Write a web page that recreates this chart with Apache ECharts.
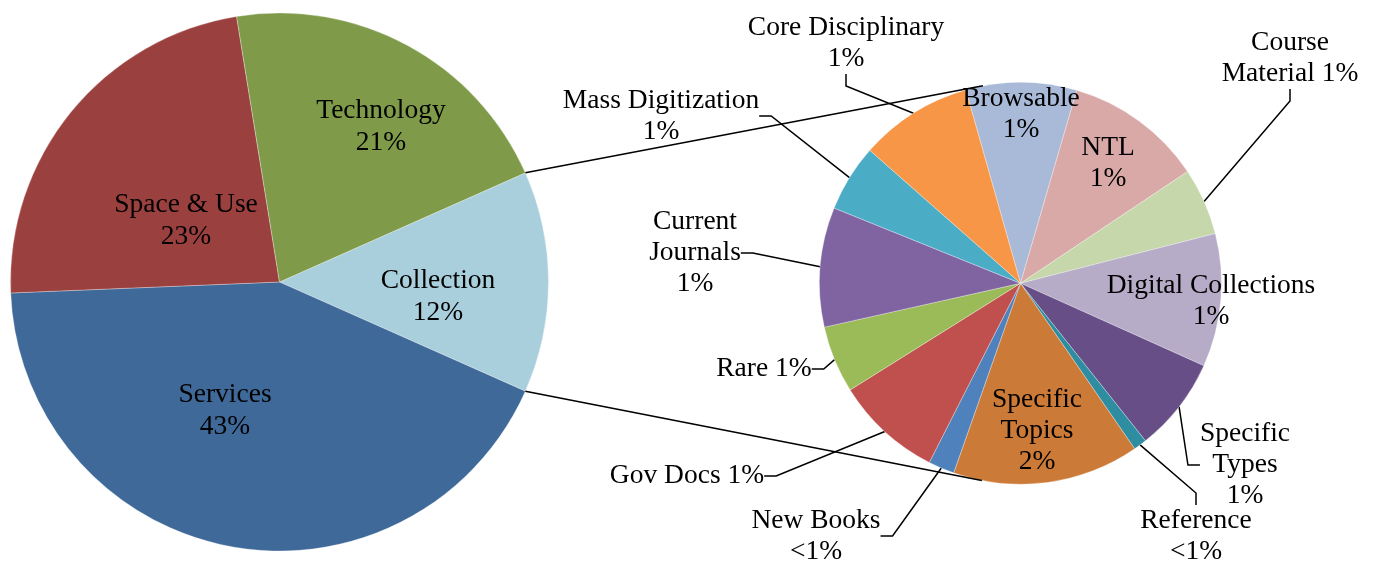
<!DOCTYPE html>
<html>
<head>
<meta charset="utf-8">
<title>Collection breakdown</title>
<script src="https://cdn.jsdelivr.net/npm/echarts@6/dist/echarts.min.js"></script>
<style>
  html, body { margin: 0; padding: 0; background: #fff; }
  #main { width: 1380px; height: 563px; }
</style>
</head>
<body>
<div id="main"></div>
<script>
// main pie (Collection first so it can be turned to face the second pie)
var mainNames = ['Collection', 'Services', 'Space & Use', 'Technology'];
var mainValues = [13.3, 42.7, 23.1, 20.9];
var mainPct = ['12%', '43%', '23%', '21%'];
var mainColors = ['#A9CEDC', '#3F6999', '#9A403E', '#7F9B4A'];

// breakdown of Collection, clockwise from the top
var subNames = ['Browsable', 'NTL', 'Course Material', 'Digital Collections', 'Specific Types',
  'Reference', 'Specific Topics', 'New Books', 'Gov Docs', 'Rare', 'Current Journals',
  'Mass Digitization', 'Core Disciplinary'];
var subValues = [8.9, 11.1, 5.4, 10.7, 7.6, 1.06, 15.0, 2.1, 8.6, 5.4, 9.6, 5.4, 9.1];
var subLabels = ['Browsable\n1%', 'NTL\n1%', 'Course\nMaterial 1%', 'Digital Collections\n1%',
  'Specific\nTypes\n1%', 'Reference\n<1%', 'Specific\nTopics\n2%', 'New Books\n<1%',
  'Gov Docs 1%', 'Rare 1%', 'Current\nJournals\n1%', 'Mass Digitization\n1%',
  'Core Disciplinary\n1%'];
var subColors = ['#A9B9D8', '#D9A9A8', '#C6D7AB', '#B6ACC8', '#674E86', '#2F8DA2', '#CC7A37',
  '#4F81BD', '#C0504D', '#9BBB59', '#8064A2', '#4BACC6', '#F79646'];

// layout
var bigC = [279.5, 282], bigR = 269;
var smallC = [1020.5, 283.3], smallR = 201;
var subStart = 105.8;
var insideSub = ['Browsable', 'NTL', 'Digital Collections', 'Specific Topics'];
var mainSpots = {
  'Collection': [438, 297], 'Services': [225, 411],
  'Space & Use': [186, 221], 'Technology': [381, 127]
};
var subSpots = {
  'Browsable': [1021, 114], 'NTL': [1108, 163], 'Digital Collections': [1211, 301],
  'Specific Topics': [1037, 431], 'Core Disciplinary': [846, 43],
  'Mass Digitization': [661, 116], 'Current Journals': [695, 253], 'Rare': [764, 369],
  'Gov Docs': [687, 476], 'New Books': [816, 536], 'Specific Types': [1245, 465],
  'Reference': [1196, 536], 'Course Material': [1290, 58]
};

var font = 'Liberation Serif';
var mainSum = mainValues.reduce(function (a, b) { return a + b; }, 0);
var mainStart = mainValues[0] / mainSum * 180; // Collection centred on 3 o'clock

// lines from the Collection slice edges, tangent to the second pie
function tangent(p, upper) {
  var dx = p[0] - smallC[0], dy = p[1] - smallC[1];
  var d = Math.sqrt(dx * dx + dy * dy);
  var a = Math.atan2(dy, dx);
  var b = Math.acos(smallR / d);
  var t = upper ? a + b : a - b;
  return [smallC[0] + smallR * Math.cos(t), smallC[1] + smallR * Math.sin(t)];
}
var ang = mainStart * Math.PI / 180;
var p1 = [bigC[0] + bigR * Math.cos(-ang), bigC[1] + bigR * Math.sin(-ang)];
var p2 = [bigC[0] + bigR * Math.cos(ang), bigC[1] + bigR * Math.sin(ang)];
var q1 = tangent(p1, true), q2 = tangent(p2, false);

var mainData = mainNames.map(function (n, i) {
  return { name: n, value: mainValues[i], itemStyle: { color: mainColors[i] } };
});
var subData = subNames.map(function (n, i) {
  var inside = insideSub.indexOf(n) >= 0;
  return {
    name: n, value: subValues[i], itemStyle: { color: subColors[i] },
    label: { position: inside ? 'inside' : 'outside' },
    labelLine: { show: !inside }
  };
});

var chart = echarts.init(document.getElementById('main'));
chart.setOption({
  animation: false,
  textStyle: { fontFamily: font },
  graphic: [
    { type: 'line', shape: { x1: p1[0], y1: p1[1], x2: q1[0], y2: q1[1] }, style: { stroke: '#000', lineWidth: 1.5 }, z: 10 },
    { type: 'line', shape: { x1: p2[0], y1: p2[1], x2: q2[0], y2: q2[1] }, style: { stroke: '#000', lineWidth: 1.5 }, z: 10 }
  ],
  series: [
    {
      type: 'pie', center: bigC, radius: bigR, startAngle: mainStart, clockwise: true,
      avoidLabelOverlap: false, silent: true,
      itemStyle: { borderColor: 'rgba(255,255,255,0.5)', borderWidth: 0.6 },
      label: {
        show: true, position: 'inside', color: '#000', fontFamily: font, fontSize: 27.5, lineHeight: 32,
        formatter: function (p) { return p.name + '\n' + mainPct[p.dataIndex]; }
      },
      labelLine: { show: false },
      labelLayout: function (p) {
        var s = mainSpots[mainNames[p.dataIndex]];
        return { x: s[0], y: s[1], align: 'center', verticalAlign: 'middle' };
      },
      data: mainData
    },
    {
      type: 'pie', center: smallC, radius: smallR, startAngle: subStart, clockwise: true,
      avoidLabelOverlap: false, silent: true,
      itemStyle: { borderColor: 'rgba(255,255,255,0.5)', borderWidth: 0.6 },
      label: {
        show: true, color: '#000', fontFamily: font, fontSize: 27.5, lineHeight: 31, align: 'center',
        formatter: function (p) { return subLabels[p.dataIndex]; }
      },
      labelLine: { length: 10, length2: 12, lineStyle: { color: '#000', width: 1.5 } },
      labelLayout: function (p) {
        var s = subSpots[subNames[p.dataIndex]];
        return { x: s[0], y: s[1], align: 'center', verticalAlign: 'middle' };
      },
      data: subData
    }
  ]
});
</script>
</body>
</html>
